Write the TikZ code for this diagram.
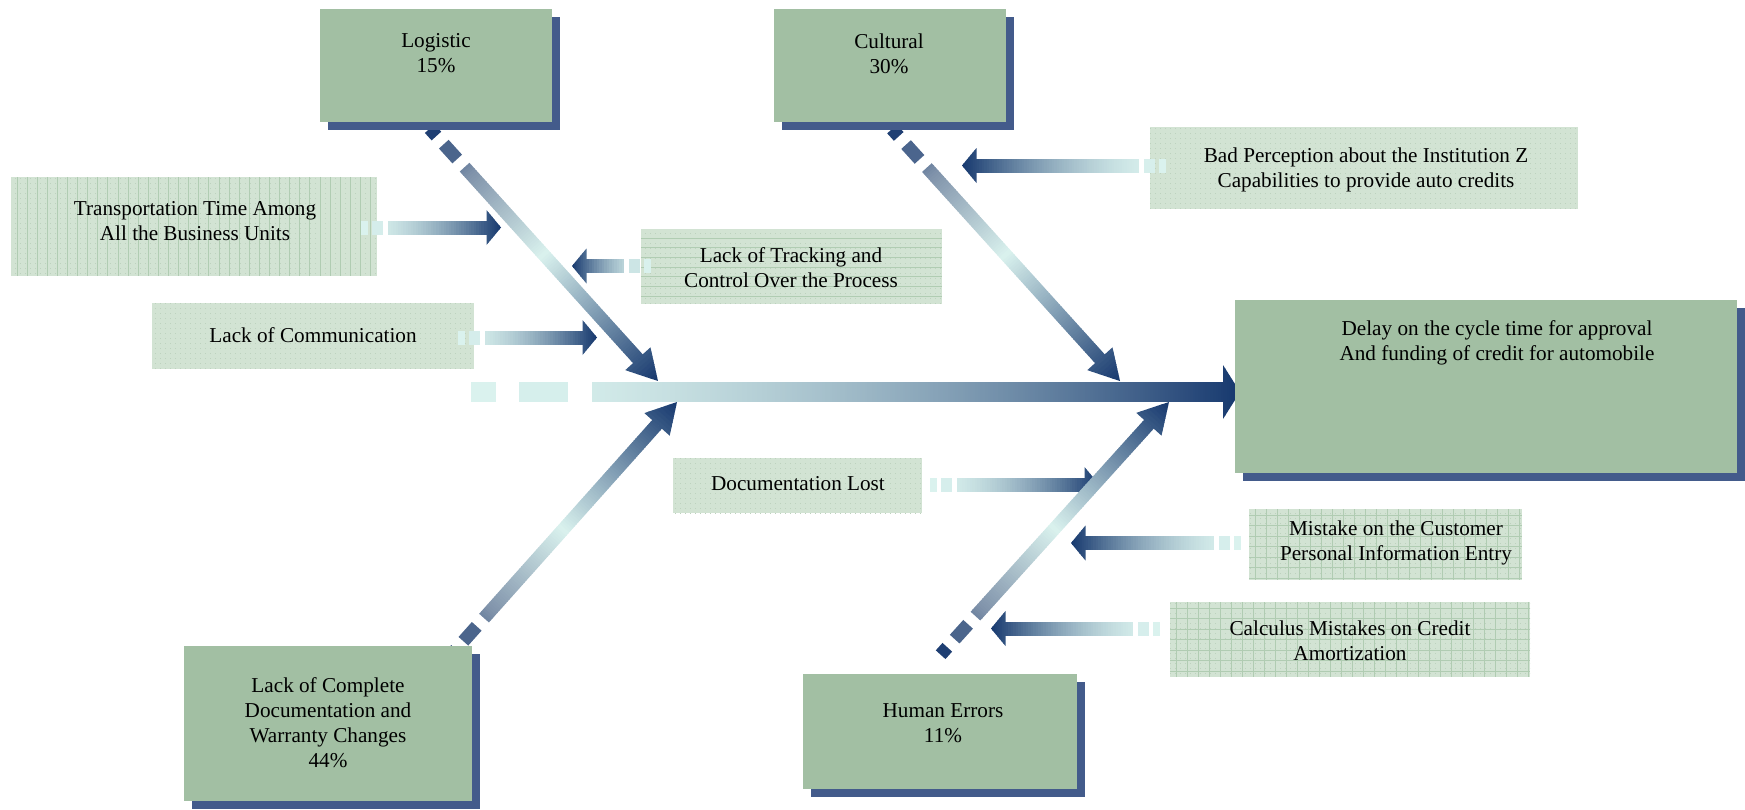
\documentclass[tikz,border=0pt]{standalone}
\usepackage{fontspec}
\setmainfont{Liberation Serif}
\usetikzlibrary{calc,shadows,patterns}

\definecolor{boxgreen}{HTML}{A2BFA3}
\definecolor{boxshadow}{HTML}{435B8B}
\definecolor{causefill}{HTML}{D2E3D3}
\definecolor{causeline}{HTML}{B0CCB2}
\definecolor{causedot}{HTML}{BDD2BE}
\definecolor{navy}{HTML}{16386E}
\definecolor{pale}{HTML}{DAF2EE}
\definecolor{grayblue}{HTML}{7F92AA}

% fine dotted texture of the cause boxes
\pgfdeclarepatternformonly{finedots}{\pgfqpoint{0pt}{0pt}}{\pgfqpoint{0.5pt}{0.5pt}}{\pgfqpoint{2.5pt}{2.5pt}}{%
  \pgfpathrectangle{\pgfqpoint{0pt}{0pt}}{\pgfqpoint{0.5pt}{0.5pt}}\pgfusepath{fill}}

% geometry of the block arrows (all in pixels of the picture grid):
% shaft half-width, head half-width, head length, end of first dash,
% start and end of second dash, start of the solid shaft
\newcommand\arrowshape[7]{\def\aSw{#1}\def\aHw{#2}\def\aHl{#3}\def\aDa{#4}\def\aDb{#5}\def\aDc{#6}\def\aDd{#7}}

% colour at relative position #2 along an arrow;
% ramp h runs pale -> navy, ramp d runs navy -> pale -> navy
\newcommand\rampcolor[2]{%
  \pgfmathsetmacro\rT{max(0.001,min(1,#2))}%
  \if#1h%
    \pgfmathsetmacro\rP{100*\rT^1.7}%
    \colorlet{gc}{navy!\rP!pale}%
  \else
    \ifdim\rT pt<0.18pt
      \pgfmathsetmacro\rP{100*\rT/0.18}\colorlet{gc}{grayblue!\rP!navy}%
    \else\ifdim\rT pt<0.5pt
      \pgfmathsetmacro\rP{100*(\rT-0.18)/0.32}\colorlet{gc}{pale!\rP!grayblue}%
    \else
      \pgfmathsetmacro\rP{100*(\rT-0.5)/0.5}\colorlet{gc}{navy!\rP!pale}%
    \fi\fi
  \fi}

% dashed-tail block arrow from coordinate #1 to coordinate #2 with ramp #3
\newcommand\fishbone[3]{%
  \path let \p1=($(#2)-(#1)$) in \pgfextra{%
    \pgfmathsetmacro\tmpA{atan2(\y1,\x1)}\xdef\arrAng{\tmpA}%
    \pgfmathsetmacro\tmpL{2*veclen(\x1,\y1)}\xdef\arrLen{\tmpL}};
  \begin{scope}[shift={(#1)}, rotate=\arrAng, x=0.5pt, y=0.5pt]
    \rampcolor{#3}{\aDa/2/\arrLen}
    \fill[gc] (0,-\aSw) rectangle (\aDa,\aSw);
    \rampcolor{#3}{(\aDb+\aDc)/2/\arrLen}
    \fill[gc] (\aDb,-\aSw) rectangle (\aDc,\aSw);
    \pgfmathsetmacro\bEnd{\arrLen-\aHl}
    \pgfmathtruncatemacro\nB{max(1,(\bEnd-\aDd)/2.5)}
    \pgfmathsetmacro\bStep{(\bEnd-\aDd)/\nB}
    \foreach \k in {1,...,\nB}{
      \pgfmathsetmacro\xa{\aDd+(\k-1)*\bStep}
      \pgfmathsetmacro\xb{min(\xa+\bStep+0.8,\bEnd+0.5)}
      \rampcolor{#3}{(\xa+0.5*\bStep)/\arrLen}
      \fill[gc] (\xa,-\aSw) rectangle (\xb,\aSw);
    }
    \foreach \k in {1,...,8}{
      \pgfmathsetmacro\xa{\bEnd+(\k-1)*\aHl/8}
      \pgfmathsetmacro\xb{min(\xa+\aHl/8+0.6,\arrLen)}
      \pgfmathsetmacro\ha{\aHw*(\arrLen-\xa)/\aHl}
      \pgfmathsetmacro\hb{\aHw*(\arrLen-\xb)/\aHl}
      \rampcolor{#3}{(\xa+\aHl/16)/\arrLen}
      \fill[gc] (\xa,-\ha) -- (\xb,-\hb) -- (\xb,\hb) -- (\xa,\ha) -- cycle;
    }
  \end{scope}}

\tikzset{
  effectbox/.style={fill=boxgreen, draw=none, inner sep=0pt,
    drop shadow={shadow xshift=4pt, shadow yshift=-4pt, fill=boxshadow, opacity=1}},
  causebox/.style={fill=causefill, draw=none, inner sep=0pt,
    postaction={pattern=finedots, pattern color=causedot}},
  boxtext/.style={font=\fontsize{10.6}{12.5}\selectfont, align=center, inner sep=0pt, text=black},
  grid line/.style={draw=causeline, line width=0.45pt},
}

\begin{document}
\begin{tikzpicture}[x=0.5pt, y=-0.5pt]
\useasboundingbox (0,0) rectangle (1745,809);

% ---------- secondary causes ----------
\node[causebox, minimum width=183pt, minimum height=49.5pt] (transport) at (194,226.5) {};
\node[causebox, minimum width=161pt, minimum height=33pt] (comm) at (313,336) {};
\node[causebox, minimum width=150.5pt, minimum height=37.5pt] (track) at (791.5,266.5) {};
\node[causebox, minimum width=214pt, minimum height=41pt] (badperc) at (1364,168) {};
\node[causebox, minimum width=124.5pt, minimum height=27.5pt] (doclost) at (797.5,485.5) {};
\node[causebox, minimum width=136.5pt, minimum height=35.5pt] (mistake) at (1385.5,544.5) {};
\node[causebox, minimum width=180pt, minimum height=37.5pt] (calculus) at (1350,639.5) {};

% ruled textures
\begin{scope}
  \clip (transport.north west) rectangle (transport.south east);
  \foreach \gx in {17,27.1,...,377} \draw[grid line] (\gx,177) -- (\gx,276);
\end{scope}
\begin{scope}
  \clip (track.north west) rectangle (track.south east);
  \foreach \gy in {238,247.7,...,304} \draw[grid line] (641,\gy) -- (942,\gy);
\end{scope}
\begin{scope}
  \clip (mistake.north west) rectangle (mistake.south east);
  \foreach \gx in {1255,1266,...,1522} \draw[grid line] (\gx,509) -- (\gx,580);
  \foreach \gy in {515,525.5,...,580} \draw[grid line] (1249,\gy) -- (1522,\gy);
\end{scope}
\begin{scope}
  \clip (calculus.north west) rectangle (calculus.south east);
  \foreach \gx in {1176,1187,...,1530} \draw[grid line] (\gx,602) -- (\gx,677);
  \foreach \gy in {608,618.5,...,677} \draw[grid line] (1170,\gy) -- (1530,\gy);
\end{scope}

\node[boxtext] (transportL) at (195,221) {Transportation Time Among\\All the Business Units};
\node[boxtext] (commL) at (313,335) {Lack of Communication};
\node[boxtext] (trackL) at (791,267.5) {Lack of Tracking and\\Control Over the Process};
\node[boxtext] (badpercL) at (1366,169.5) {Bad Perception about the Institution Z\\Capabilities to provide auto credits};
\node[boxtext] (doclostL) at (798,484) {Documentation Lost};
\node[boxtext] (mistakeL) at (1396,543) {Mistake on the Customer\\Personal Information Entry};
\node[boxtext] (calculusL) at (1350,640.5) {Calculus Mistakes on Credit\\Amortization};

% ---------- arrow end points ----------
\coordinate (transportT) at (361,227.5);  \coordinate (transportH) at (501,227.5);
\coordinate (commT) at (458,337.5);       \coordinate (commH) at (597,337.5);
\coordinate (trackT) at (651,266);        \coordinate (trackH) at (572,266);
\coordinate (badT) at (1166,165.5);       \coordinate (badH) at (962,165.5);
\coordinate (docT) at (930,484.5);        \coordinate (docH) at (1099,484.5);
\coordinate (mistT) at (1241,543);        \coordinate (mistH) at (1071,543);
\coordinate (calcT) at (1160,628.5);      \coordinate (calcH) at (991,628.5);
\coordinate (spineT) at (471,392);        \coordinate (spineH) at (1240,392);
\coordinate (logT) at (429.7,128.6);      \coordinate (logH) at (658,381);
\coordinate (culT) at (892,129);          \coordinate (culH) at (1120,381);
\coordinate (docuT) at (449.4,656.9);     \coordinate (docuH) at (677,402);
\coordinate (humT) at (940.6,654.7);      \coordinate (humH) at (1169,402);

% ---------- small cause arrows ----------
\arrowshape{7}{17.5}{14.5}{7}{11}{22}{27}
\fishbone{transportT}{transportH}{h}
\fishbone{commT}{commH}{h}
\fishbone{trackT}{trackH}{h}
\fishbone{badT}{badH}{h}
\fishbone{docT}{docH}{h}
\fishbone{mistT}{mistH}{h}
\fishbone{calcT}{calcH}{h}

% ---------- spine ----------
\arrowshape{10}{27}{17}{25}{48}{97}{121}
\fishbone{spineT}{spineH}{h}

% ---------- category bones ----------
\arrowshape{6.5}{17}{30}{10}{21}{41}{52}
\fishbone{logT}{logH}{d}
\fishbone{culT}{culH}{d}
\fishbone{docuT}{docuH}{d}
\fishbone{humT}{humH}{d}

% ---------- categories and effect ----------
\node[effectbox, minimum width=116pt, minimum height=56.5pt] (logistic) at (436,65.5) {};
\node[effectbox, minimum width=116pt, minimum height=56.5pt] (cultural) at (890,65.5) {};
\node[effectbox, minimum width=251pt, minimum height=86.5pt] (effect) at (1486,386.5) {};
\node[effectbox, minimum width=144pt, minimum height=77.5pt] (lackdoc) at (328,723.5) {};
\node[effectbox, minimum width=137pt, minimum height=57.5pt] (human) at (940,731.5) {};

\node[boxtext] (logisticL) at (436,53.5) {Logistic\\15\%};
\node[boxtext] (culturalL) at (889,53.5) {Cultural\\30\%};
\node[boxtext] (effectL) at (1497,342.5) {Delay on the cycle time for approval\\And funding of credit for automobile};
\node[boxtext] (lackdocL) at (328,722.5) {Lack of Complete\\Documentation and\\Warranty Changes\\44\%};
\node[boxtext] (humanL) at (943,723) {Human Errors\\11\%};
\end{tikzpicture}
\end{document}
